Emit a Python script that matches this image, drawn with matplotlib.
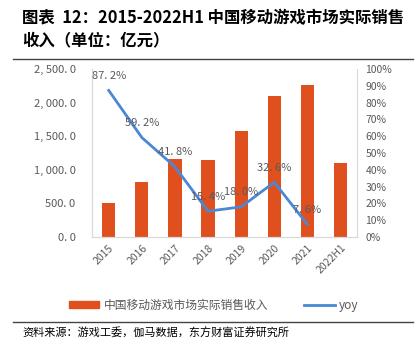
import matplotlib.pyplot as plt
from matplotlib.lines import Line2D
from matplotlib.patches import Patch
from matplotlib.ticker import FuncFormatter

plt.rcParams['font.family'] = ['Noto Sans CJK SC', 'DejaVu Sans']

years = ["2015", "2016", "2017", "2018", "2019", "2020", "2021", "2022H1"]
revenue = [514.6, 819.2, 1161.2, 1140.0, 1581.1, 2096.8, 2255.4, 1104.0]
yoy = [87.2, 59.2, 41.8, 15.4, 18.0, 32.6, 7.6]
yoy_labels = ["87. 2%", "59. 2%", "41. 8%", "15. 4%", "18. 0%", "32. 6%", "7. 6%"]

bar_color = "#E0501E"
line_color = "#4A88D4"
txt_gray = "#595959"
spine_gray = "#D9D9D9"

fig = plt.figure(figsize=(4.19, 3.55), dpi=100)
ax = fig.add_axes([0.22, 0.332, 0.632, 0.474])
x = list(range(len(years)))
ax.bar(x, revenue, width=0.4, color=bar_color, zorder=2)
ax.set_xlim(-0.5, len(years) - 0.5)
ax.set_ylim(0, 2500)
ax.set_yticks([0, 500, 1000, 1500, 2000, 2500])
ax.yaxis.set_major_formatter(FuncFormatter(lambda v, p: f"{v:,.1f}".replace(",", ", ").replace(".", ". ")))
ax.set_xticks(x)
ax.set_xticklabels(years, rotation=45, ha="right", rotation_mode="anchor")
ax.tick_params(length=0, colors=txt_gray, labelsize=8)
ax.tick_params(axis="y", pad=12)
ax.tick_params(axis="x", pad=4, labelsize=7.5)
ax.spines["top"].set_visible(False)
for s in ["left", "right", "bottom"]:
    ax.spines[s].set_color(spine_gray)

ax2 = ax.twinx()
ax2.plot(x[:len(yoy)], yoy, color=line_color, linewidth=2, zorder=3)
ax2.set_ylim(0, 100)
ax2.set_yticks(range(0, 101, 10))
ax2.set_yticklabels([f"{v}%" for v in range(0, 101, 10)])
ax2.tick_params(length=0, colors=txt_gray, labelsize=7.5, pad=6)
ax2.spines["top"].set_visible(False)
for s in ["left", "right", "bottom"]:
    ax2.spines[s].set_color(spine_gray)
for xi, v, lab in zip(x, yoy, yoy_labels):
    ax2.annotate(lab, (xi, v), xytext=(0, 7), textcoords="offset points",
                 ha="center", va="bottom", fontsize=8, color=txt_gray)

handles = [Patch(color=bar_color), Line2D([0], [0], color=line_color, linewidth=2)]
fig.legend(handles, ["中国移动游戏市场实际销售收入", "yoy"], loc="center",
           bbox_to_anchor=(0.51, 0.14), ncol=2, frameon=False, fontsize=8.5,
           labelcolor=txt_gray, handlelength=2.6, handleheight=0.5,
           columnspacing=3.0, handletextpad=0.4)

fig.text(0.053, 0.975, "图表  12：2015-2022H1 中国移动游戏市场实际销售\n收入（单位：亿元）",
         fontsize=11.8, fontweight="bold", va="top", ha="left", linespacing=1.35)
fig.add_artist(Line2D([0.03, 0.985], [0.834, 0.834], color="#444444", linewidth=1))
fig.add_artist(Line2D([0.03, 0.985], [0.093, 0.093], color="#444444", linewidth=1))
fig.text(0.053, 0.062, "资料来源：游戏工委，伽马数据，东方财富证券研究所",
         fontsize=8, va="center", ha="left")

fig.savefig("out.png", dpi=100)
